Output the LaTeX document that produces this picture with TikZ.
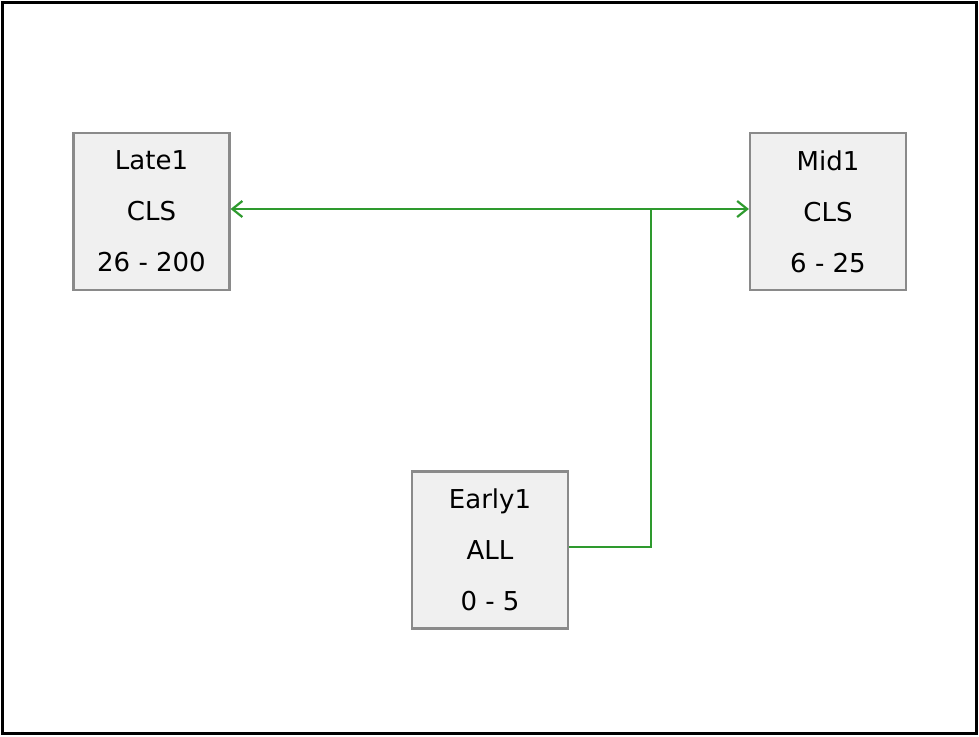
\documentclass[tikz,border=0pt]{standalone}
\usepackage{fontspec}
\setmainfont{DejaVu Sans}
\usetikzlibrary{arrows.meta}
\definecolor{boxgray}{HTML}{8A8A8A}
\definecolor{boxfill}{HTML}{F0F0F0}
\definecolor{linkgreen}{HTML}{2E9A2E}
\begin{document}
\begin{tikzpicture}[x=1pt,y=-1pt,
  stage/.style={draw=boxgray, line width=2.2pt, fill=boxfill,
    minimum width=156pt, minimum height=157pt, inner sep=0pt,
    align=center, font=\fontsize{26}{51}\selectfont},
  link/.style={draw=linkgreen, line width=2.2pt},
  barb/.tip={Straight Barb[length=10pt,width=16pt,line width=2.2pt]}]
  % page frame
  \useasboundingbox (0,0) rectangle (979,736);
  \draw[line width=3.5pt] (2.5,2.5) rectangle (976.5,733.5);

  % stages
  \node[stage] (late)  at (151.5,211.5) {Late1\\CLS\\26 - 200};
  \node[stage] (mid)   at (828,211.5)   {Mid1\\CLS\\6 - 25};
  \node[stage] (early) at (490,550)     {Early1\\ALL\\0 - 5};

  % connectors
  \coordinate (j) at (651,209);
  \draw[link, barb-barb] ([yshift=2.5pt]late.east) -- ([yshift=2.5pt]mid.west);
  \draw[link] ([yshift=3pt]early.east) -| (j);
\end{tikzpicture}
\end{document}
